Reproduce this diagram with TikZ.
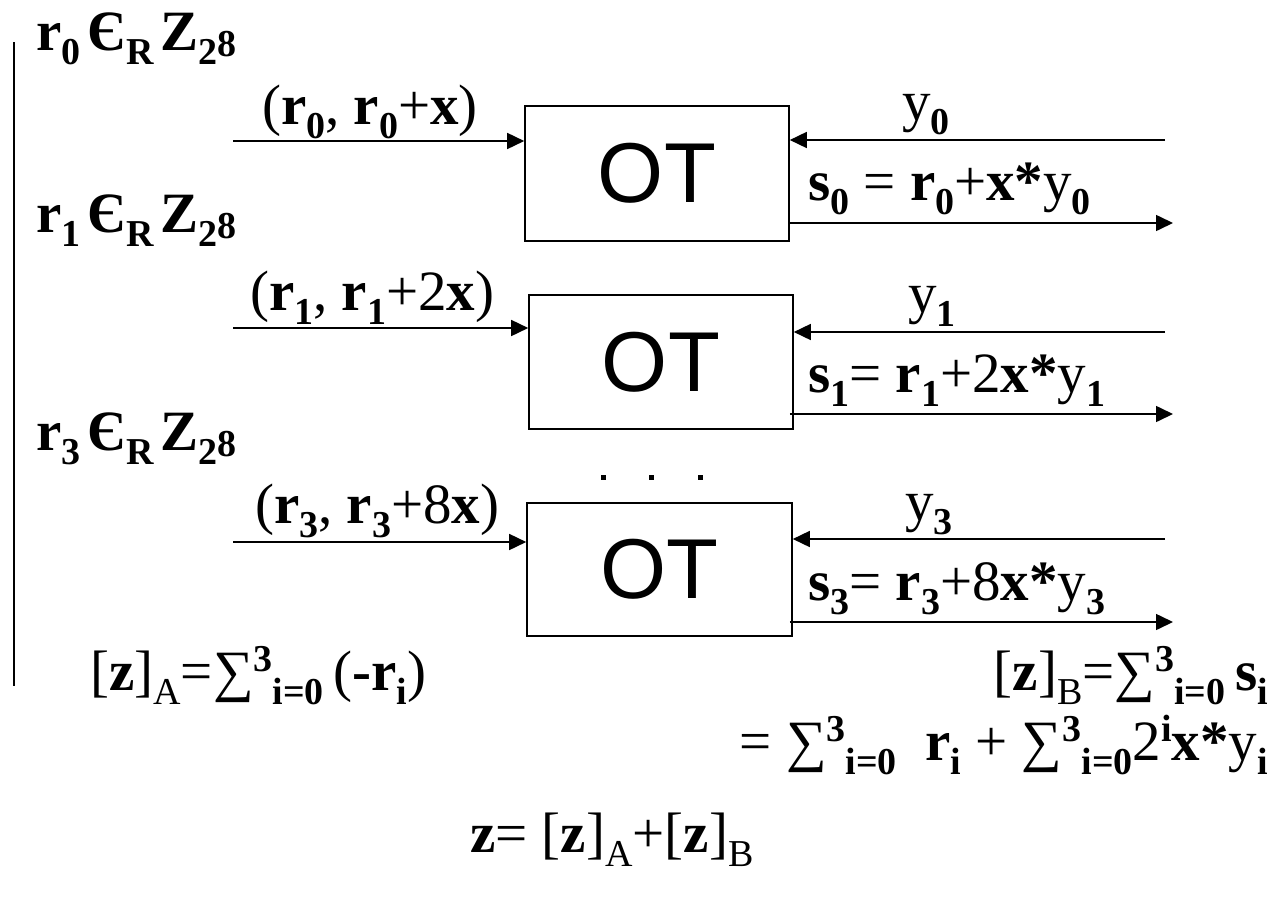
\documentclass[tikz,border=0pt]{standalone}
\usepackage{fontspec}
\setmainfont{Liberation Serif}
\newfontfamily\arialfont{Liberation Sans}
\usetikzlibrary{arrows.meta}
\newcommand\lo[1]{\raisebox{-0.26em}{\fontsize{38}{38}\selectfont #1}}
\newcommand\hi[1]{\raisebox{0.33em}{\fontsize{38}{38}\selectfont #1}}
\newcommand\eight{\raisebox{-0.12em}{\fontsize{38}{38}\selectfont\bfseries 8}}
\begin{document}
\begin{tikzpicture}[x=1pt,y=-1pt,
  otbox/.style={draw, line width=1.6pt, inner sep=0, font=\arialfont\fontsize{85}{85}\selectfont},
  lbl/.style={inner sep=0, font=\fontsize{57}{60}\selectfont},
  arr/.style={line width=1.6pt, -{Triangle[length=17pt,width=16pt]}},
  ln/.style={line width=1.6pt}]
\useasboundingbox (0,0) rectangle (1280,897);
% boxes
\node[otbox, minimum width=264pt, minimum height=135pt] (b1) at (657,173.5) {OT};
\node[otbox, minimum width=264pt, minimum height=134pt] (b2) at (661,362) {OT};
\node[otbox, minimum width=265pt, minimum height=133pt] (b3) at (659.5,569.5) {OT};
% left vertical line
\coordinate (vt) at (14,42);
\coordinate (vb) at (14,686);
\draw[ln] (vt) -- (vb);
% coordinates for arrows
\coordinate (i1) at (233,141);
\coordinate (i2) at (233,328);
\coordinate (i3) at (233,542);
\coordinate (y1s) at (1165,140);
\coordinate (y2s) at (1165,332);
\coordinate (y3s) at (1165,539);
\coordinate (o1) at (1173,223);
\coordinate (o2) at (1173,414);
\coordinate (o3) at (1173,622);
\draw[arr] (i1) -- (i1 -| b1.west);
\draw[arr] (i2) -- (i2 -| b2.west);
\draw[arr] (i3) -- (i3 -| b3.west);
\draw[arr] (y1s) -- (y1s -| b1.east);
\draw[arr] (y2s) -- (y2s -| b2.east);
\draw[arr] (y3s) -- (y3s -| b3.east);
\draw[arr] (o1 -| b1.east) -- (o1);
\draw[arr] ([xshift=-4pt]o2 -| b2.east) -- (o2);
\draw[arr] ([xshift=-3pt]o3 -| b3.east) -- (o3);
% dots
\foreach \i/\xx in {1/603,2/651,3/700}
  \node[fill, inner sep=0, minimum size=5pt] (dot\i) at (\xx,477) {};
% left labels
\node[lbl, anchor=base west] (r0) at (36,50) {\textbf{r}\lo{\textbf{0}}\hspace{7pt}\textbf{Є}\lo{\textbf{R}}\hspace{7pt}\textbf{Z}\lo{\textbf{2}}\eight};
\node[lbl, anchor=base west] (r1) at (36,232) {\textbf{r}\lo{\textbf{1}}\hspace{7pt}\textbf{Є}\lo{\textbf{R}}\hspace{7pt}\textbf{Z}\lo{\textbf{2}}\eight};
\node[lbl, anchor=base west] (r3) at (36,450) {\textbf{r}\lo{\textbf{3}}\hspace{7pt}\textbf{Є}\lo{\textbf{R}}\hspace{7pt}\textbf{Z}\lo{\textbf{2}}\eight};
% input labels
\node[lbl, anchor=base west] (p0) at (262,124) {(\textbf{r}\lo{\textbf{0}}, \textbf{r}\lo{\textbf{0}}+\textbf{x})};
\node[lbl, anchor=base west] (p1) at (250,310) {(\textbf{r}\lo{\textbf{1}}, \textbf{r}\lo{\textbf{1}}+2\textbf{x})};
\node[lbl, anchor=base west] (p3) at (255,523) {(\textbf{r}\lo{\textbf{3}}, \textbf{r}\lo{\textbf{3}}+8\textbf{x})};
% y labels
\node[lbl, anchor=base west] (y0) at (902,120) {y\lo{\textbf{0}}};
\node[lbl, anchor=base west] (yy1) at (908,312) {y\lo{\textbf{1}}};
\node[lbl, anchor=base west] (yy3) at (905,520) {y\lo{\textbf{3}}};
% s labels
\node[lbl, anchor=base west] (s0) at (808,200) {\textbf{s}\lo{\textbf{0}} = \textbf{r}\lo{\textbf{0}}+\textbf{x*}y\lo{\textbf{0}}};
\node[lbl, anchor=base west] (s1) at (808,392) {\textbf{s}\lo{\textbf{1}}= \textbf{r}\lo{\textbf{1}}+2\textbf{x*}y\lo{\textbf{1}}};
\node[lbl, anchor=base west] (s3) at (808,600) {\textbf{s}\lo{\textbf{3}}= \textbf{r}\lo{\textbf{3}}+8\textbf{x*}y\lo{\textbf{3}}};
% bottom formulas
\node[lbl, anchor=base west] (za) at (90,690) {[\textbf{z}]\lo{A}=∑\hi{\textbf{3}}\lo{\textbf{i=0}}\,(\textbf{-r}\lo{\textbf{i}})};
\node[lbl, anchor=base east] (zb) at (1268,690) {[\textbf{z}]\lo{B}=∑\hi{\textbf{3}}\lo{\textbf{i=0}}\,\textbf{s}\lo{\textbf{i}}};
\node[lbl, anchor=base east] (zb2) at (1268,760) {= ∑\hi{\textbf{3}}\lo{\textbf{i=0}}\ \ \textbf{r}\lo{\textbf{i}} + ∑\hi{\textbf{3}}\lo{\textbf{i=0}}2\hi{\textbf{i}}\textbf{x*}y\lo{\textbf{i}}};
\node[lbl, anchor=base west] (z) at (470,852) {\textbf{z}= [\textbf{z}]\lo{A}+[\textbf{z}]\lo{B}};
\end{tikzpicture}
\end{document}
